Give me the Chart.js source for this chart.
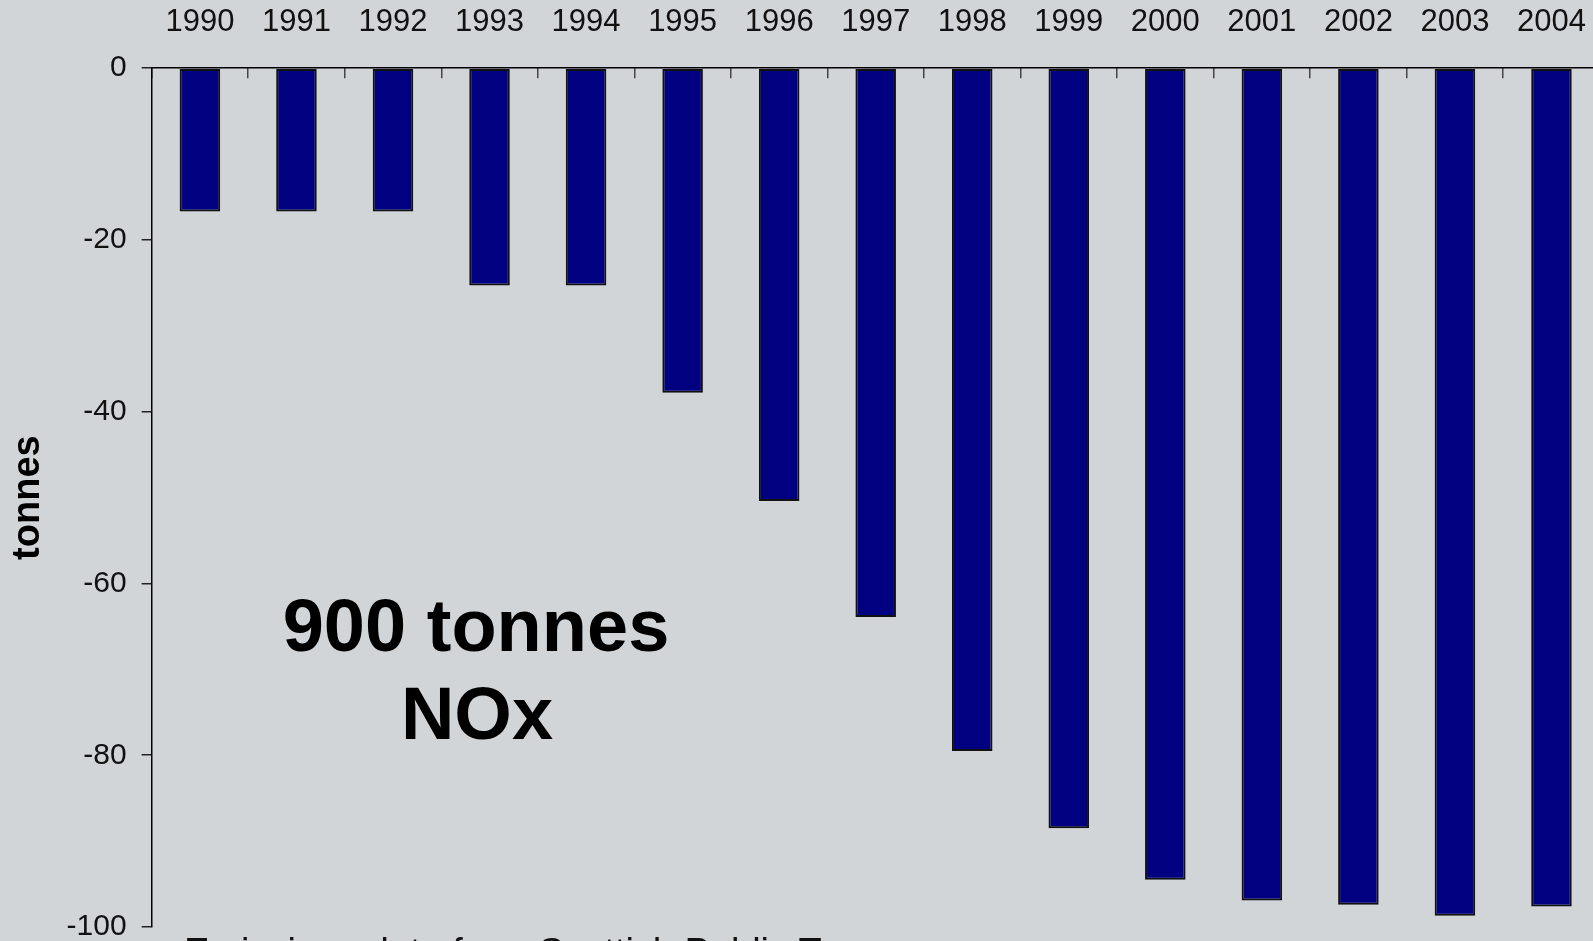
<!DOCTYPE html>
<html lang="en">
<head>
    <meta charset="UTF-8">
    <title>NOx savings 1990-2004</title>
    <style>
        body {
            margin: 0;
            padding: 0;
            background-color: #d1d5d8;
            overflow: hidden;
        }

        /* the chart runs slightly past the right and top edges of the window */
        .frame {
            position: relative;
            width: 1593px;
            height: 941px;
            overflow: hidden;
            background-color: #d1d5d8;
        }

        .frame canvas {
            position: absolute;
            left: 0;
            top: -40px;
        }
    </style>
    <script src="https://cdn.jsdelivr.net/npm/chart.js"></script>
</head>
<body>
    <div class="frame">
        <canvas id="noxChart" width="1623" height="1000"></canvas>
    </div>

    <script>
        // data
        const years = ['1990', '1991', '1992', '1993', '1994', '1995', '1996', '1997',
                       '1998', '1999', '2000', '2001', '2002', '2003', '2004'];
        const savings = [-16.7, -16.7, -16.7, -25.3, -25.3, -37.8, -50.4, -63.9,
                         -79.5, -88.5, -94.5, -96.9, -97.4, -98.7, -97.6];
        const yMin = -100;
        const yMax = 0;
        const yStep = 20;
        const noteLines = ['900 tonnes', 'NOx'];
        const sourceText = 'Emissions data from Scottish Public T';

        Chart.defaults.font.family = "Arial, 'Liberation Sans', sans-serif";
        Chart.defaults.color = '#111';

        // big "900 tonnes NOx" note and the source line cut off at the bottom
        const notesPlugin = {
            id: 'notes',
            afterDraw(chart) {
                const ctx = chart.ctx;
                ctx.save();
                ctx.fillStyle = '#000';
                ctx.textAlign = 'center';
                ctx.textBaseline = 'alphabetic';
                ctx.font = "bold 74px Arial, 'Liberation Sans', sans-serif";
                ctx.fillText(noteLines[0], 476, 691);
                ctx.fillText(noteLines[1], 477, 779);

                ctx.textAlign = 'left';
                ctx.font = "38px Arial, 'Liberation Sans', sans-serif";
                ctx.fillStyle = '#111';
                ctx.fillText(sourceText, 184, 1005);
                ctx.restore();
            }
        };

        const ctx = document.getElementById('noxChart').getContext('2d');
        new Chart(ctx, {
            type: 'bar',
            data: {
                labels: years,
                datasets: [{
                    label: 'NOx',
                    data: savings,
                    backgroundColor: '#000080',
                    borderColor: '#111',
                    borderWidth: 2,
                    borderSkipped: false,
                    categoryPercentage: 1,
                    barPercentage: 0.42
                }]
            },
            options: {
                responsive: false,
                animation: false,
                layout: {
                    padding: { top: 7, left: 0, right: 1.4, bottom: 32 }
                },
                plugins: {
                    legend: { display: false },
                    tooltip: { enabled: false }
                },
                scales: {
                    x: {
                        position: 'top',
                        offset: true,
                        grid: {
                            offset: true,
                            drawOnChartArea: false,
                            tickLength: -10,   // tick marks point down into the plot
                            color: '#444',
                            lineWidth: 1.5
                        },
                        border: { color: '#000', width: 1.5 },
                        ticks: {
                            autoSkip: false,
                            maxRotation: 0,
                            padding: 37,
                            color: '#111',
                            font: { size: 31 }
                        }
                    },
                    y: {
                        min: yMin,
                        max: yMax,
                        grid: {
                            drawOnChartArea: false,
                            tickLength: 10,
                            color: '#222',
                            lineWidth: 1.5
                        },
                        border: { color: '#000', width: 1.5 },
                        ticks: {
                            stepSize: yStep,
                            padding: 15,
                            color: '#111',
                            font: { size: 30 }
                        },
                        title: {
                            display: true,
                            text: 'tonnes',
                            color: '#000',
                            padding: { top: 6, bottom: 0 },
                            font: { size: 38, weight: 'bold' }
                        }
                    }
                }
            },
            plugins: [notesPlugin]
        });
    </script>
</body>
</html>
